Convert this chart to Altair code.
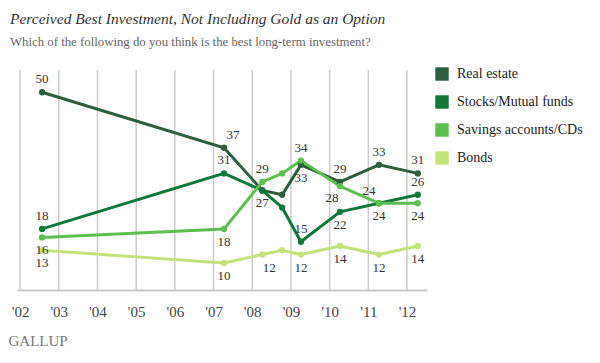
import altair as alt
import pandas as pd

series_names = ["Real estate", "Stocks/Mutual funds", "Savings accounts/CDs", "Bonds"]
series_colors = ["#2d5e3e", "#11773a", "#5cbf4f", "#c4e27a"]

dates = ["2002-07-28", "2007-04-10", "2008-04-06", "2008-10-10",
         "2009-04-05", "2010-04-08", "2011-04-12", "2012-04-12"]

real_estate = [50, 37, 27, 26, 33, 29, 33, 31]
stocks = [18, 31, 27, 23, 15, 22, 24, 26]
savings = [16, 18, 29, 31, 34, 28, 24, 24]
bonds = [13, 10, 12, 13, 12, 14, 12, 14]

# label placement per point: a=above, b=below, ar/al=above right/left,
# br/bl=below right/left, "" = no label
real_estate_lbl = ["a", "ar", "b", "", "b", "a", "a", "a"]
stocks_lbl = ["a", "a", "", "", "a", "b", "al", "a"]
savings_lbl = ["b", "b", "a", "", "a", "bl", "b", "b"]
bonds_lbl = ["b", "b", "br", "", "b", "b", "b", "b"]

year_ticks = [f"{y}-01-01" for y in range(2002, 2013)]

rows = []
for name, vals, lbls in zip(series_names,
                            [real_estate, stocks, savings, bonds],
                            [real_estate_lbl, stocks_lbl, savings_lbl, bonds_lbl]):
    for d, v, l in zip(dates, vals, lbls):
        rows.append({"series": name, "date": d, "value": v, "lbl": l})
df = pd.DataFrame(rows)
grid_df = pd.DataFrame({"date": year_ticks})

FONT = "Liberation Serif"

x_scale = alt.Scale(domain=["2001-12-03", "2012-07-08"])
x_enc = alt.X("date:T", scale=x_scale,
              axis=alt.Axis(values=[alt.DateTime(year=int(d[:4]), month=1, date=1) for d in year_ticks],
                            format="'%y", labelFontSize=15, labelColor="#444",
                            labelFont=FONT, ticks=False, labelPadding=14,
                            domain=True, domainColor="#c8c8c8", domainWidth=2,
                            grid=False,
                            title="GALLUP", titleFont=FONT, titleFontSize=15,
                            titleFontWeight="normal", titleColor="#777",
                            titleAnchor="start", titleAlign="left",
                            titleX=-9, titleY=50, titleBaseline="middle"))
y_enc = alt.Y("value:Q", scale=alt.Scale(domain=[3.7, 55.2], nice=False, zero=False),
              axis=None)
color_enc = alt.Color("series:N",
                      scale=alt.Scale(domain=series_names, range=series_colors),
                      legend=alt.Legend(title=None, orient="none", legendX=418, legendY=-3,
                                        symbolType="square", symbolSize=180,
                                        symbolStrokeWidth=0, symbolOpacity=1,
                                        labelFont=FONT, labelFontSize=14,
                                        labelColor="#222", rowPadding=14,
                                        labelOffset=8, padding=0))

grid = alt.Chart(grid_df).mark_rule(color="#cccccc", strokeWidth=1.5).encode(x=x_enc)

base = alt.Chart(df)
lines = base.mark_line(strokeWidth=3).encode(x=x_enc, y=y_enc, color=color_enc,
                                            order=alt.Order("date:T"))
points = base.mark_circle(size=40, opacity=1).encode(x=x_enc, y=y_enc, color=color_enc)

placements = {"a": (0, -13), "ar": (9, -13), "al": (-10, -12),
              "b": (0, 13), "br": (7, 13), "bl": (-8, 12)}


def label_layer(code):
    dx, dy = placements[code]
    return base.transform_filter(alt.datum.lbl == code).mark_text(
        font=FONT, fontSize=13, color="#333", dx=dx, dy=dy, baseline="middle"
    ).encode(x=x_enc, y=y_enc, text="value:Q")


label_layers = [label_layer(c) for c in placements]

chart = alt.layer(grid, lines, points, *label_layers).properties(
    width=410, height=220,
    autosize=alt.AutoSizeParams(type="none"),
    padding={"left": 9, "top": 62, "right": 165, "bottom": 65},
    title=alt.TitleParams(
        "Perceived Best Investment, Not Including Gold as an Option",
        subtitle="Which of the following do you think is the best long-term investment?",
        anchor="start", frame="group", dx=-7, font=FONT, fontSize=15.5, fontStyle="italic",
        fontWeight="normal", color="#333", subtitleFont=FONT, subtitleFontSize=12.8,
        subtitleColor="#666", subtitlePadding=9, offset=18)
).configure_view(stroke=None)

chart.save("out.html", embed_options={"renderer": "svg", "actions": False})
